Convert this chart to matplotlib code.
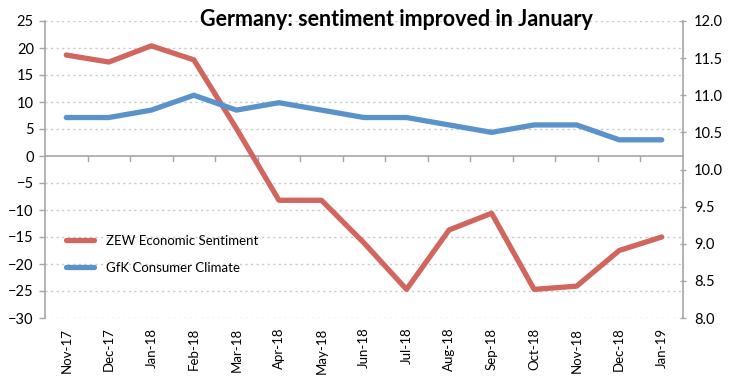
import matplotlib
matplotlib.use('Agg')
import matplotlib.pyplot as plt
import numpy as np

months = ['Nov-17', 'Dec-17', 'Jan-18', 'Feb-18', 'Mar-18', 'Apr-18', 'May-18', 'Jun-18',
          'Jul-18', 'Aug-18', 'Sep-18', 'Oct-18', 'Nov-18', 'Dec-18', 'Jan-19']
zew = [18.7, 17.4, 20.4, 17.8, 5.1, -8.2, -8.2, -16.1, -24.7, -13.7, -10.6, -24.7, -24.1, -17.5, -15.0]
gfk = [10.7, 10.7, 10.8, 11.0, 10.8, 10.9, 10.8, 10.7, 10.7, 10.6, 10.5, 10.6, 10.6, 10.4, 10.4]

plt.rcParams['font.family'] = ['Lato', 'DejaVu Sans']
red = '#d0665e'
blue = '#5a93cc'
grey = '#a6a6a6'

fig = plt.figure(figsize=(7.44, 3.76), dpi=100)
ax = fig.add_axes([45/744, 1-318/376, (683-45)/744, (318-21)/376])
ax2 = ax.twinx()

x = np.arange(len(months))
ax.plot(x, zew, color=red, lw=3.8, solid_capstyle='round', label='ZEW Economic Sentiment', zorder=3)
ax2.plot(x, gfk, color=blue, lw=3.8, solid_capstyle='round', label='GfK Consumer Climate', zorder=3)

ax.set_xlim(-0.5, len(months) - 0.5)
ax.set_ylim(-30, 25)
ax.set_yticks(range(-30, 26, 5))
ax2.set_ylim(8.0, 12.0)
ax2.set_yticks(np.arange(8.0, 12.01, 0.5))
ax2.set_yticklabels(['%.1f' % v for v in np.arange(8.0, 12.01, 0.5)])

for v in range(-30, 26, 5):
    if v != 0:
        ax.axhline(v, color='#c8c8c8', lw=1, ls=(0, (1.5, 2.5)), zorder=1)
ax.axhline(0, color=grey, lw=1.2, zorder=2)
# small ticks on the zero line between categories
for b in np.arange(0.5, len(months) - 0.5, 1):
    ax.plot([b, b], [0, -1.0], color=grey, lw=1, zorder=2)

ax.set_xticks(x)
ax.set_xticklabels(months, rotation=90, fontsize=9.5)
ax.tick_params(axis='x', length=0, pad=7)

for s in ['top', 'bottom']:
    ax.spines[s].set_visible(False)
    ax2.spines[s].set_visible(False)
ax.spines['right'].set_visible(False)
ax2.spines['left'].set_visible(False)
ax.spines['left'].set_color(grey)
ax.spines['left'].set_linewidth(1.2)
ax2.spines['right'].set_color(grey)
ax2.spines['right'].set_linewidth(1.2)
ax.tick_params(axis='y', labelsize=10.5, colors=grey, labelcolor='black', length=4, width=1, pad=4)
ax2.tick_params(axis='y', labelsize=10.5, colors=grey, labelcolor='black', length=4, width=1,
                direction='inout', pad=6)

h1, l1 = ax.get_legend_handles_labels()
h2, l2 = ax2.get_legend_handles_labels()
leg = ax.legend(h1 + h2, l1 + l2, loc='upper left', bbox_to_anchor=(0.015, 0.32),
                frameon=False, fontsize=9.5, handlelength=2.1, handletextpad=0.9,
                labelspacing=1.15)

fig.text(0.533, 1-20/376, 'Germany: sentiment improved in January', ha='center', va='center',
         fontsize=15.5, fontweight='bold')

fig.savefig('out.png', dpi=100)
